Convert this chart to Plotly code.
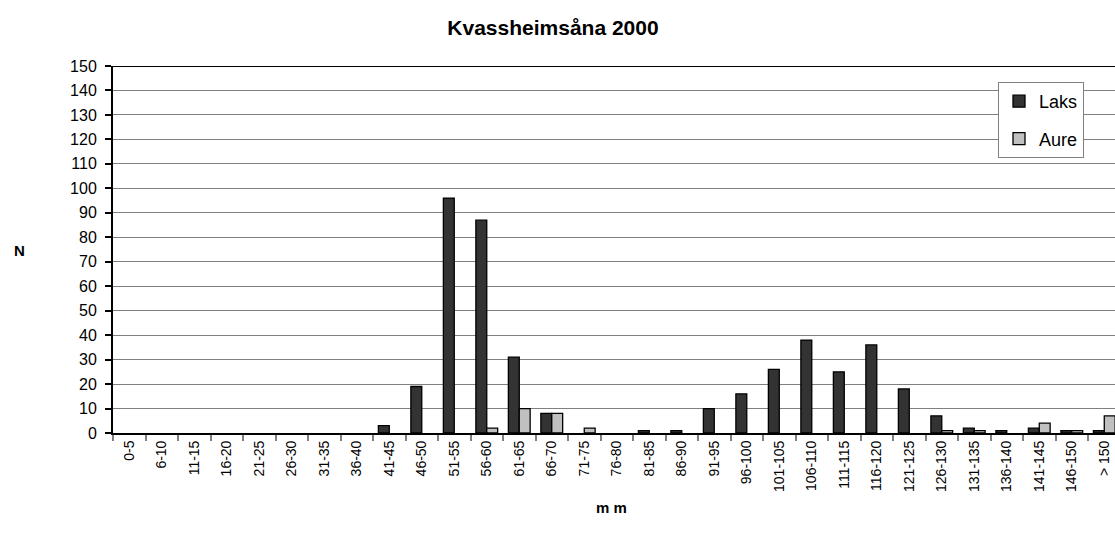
import plotly.graph_objects as go

categories = ["0-5", "6-10", "11-15", "16-20", "21-25", "26-30", "31-35", "36-40",
              "41-45", "46-50", "51-55", "56-60", "61-65", "66-70", "71-75", "76-80",
              "81-85", "86-90", "91-95", "96-100", "101-105", "106-110", "111-115",
              "116-120", "121-125", "126-130", "131-135", "136-140", "141-145",
              "146-150", "> 150"]
laks = [0, 0, 0, 0, 0, 0, 0, 0, 3, 19, 96, 87, 31, 8, 0, 0, 1, 1, 10, 16, 26, 38,
        25, 36, 18, 7, 2, 1, 2, 1, 1]
aure = [0, 0, 0, 0, 0, 0, 0, 0, 0, 0, 0, 2, 10, 8, 2, 0, 0, 0, 0, 0, 0, 0,
        0, 0, 0, 1, 1, 0, 4, 1, 7]
y_ticks = list(range(0, 151, 10))

FONT = "Liberation Sans, Arial, sans-serif"
W, H = 1115, 548
L, R, T, B = 113, 0, 66, 115
PW, PH = W - L - R, H - T - B


def nz(vals):
    # zero counts draw no bar (as in the reference)
    return [v if v else None for v in vals]


fig = go.Figure()
fig.add_trace(go.Bar(x=categories, y=nz(laks), name="Laks", legendgroup="a",
                     marker=dict(color="#333333", line=dict(color="black", width=1.3))))
fig.add_trace(go.Bar(x=categories, y=nz(aure), name="Aure", legendgroup="b",
                     marker=dict(color="#c0c0c0", line=dict(color="black", width=1.3))))

fig.add_shape(type="line", xref="paper", yref="y", x0=0, x1=1, y0=150, y1=150,
              line=dict(color="black", width=2))

fig.update_layout(
    width=W, height=H,
    margin=dict(l=L, r=R, t=T, b=B, autoexpand=False),
    paper_bgcolor="white", plot_bgcolor="white",
    barmode="group", bargap=0.33, bargroupgap=0,
    font=dict(family=FONT, size=15, color="black"),
    title=dict(text="<b>Kvassheimsåna 2000</b>", x=553 / W, xref="container",
               y=1 - 28 / H, yref="container", xanchor="center", yanchor="middle",
               font=dict(family=FONT, size=21, color="black")),
    xaxis=dict(type="category", range=[-0.5, 30.33], tickson="boundaries",
               ticks="outside", ticklen=6, tickcolor="#808080", tickwidth=1.5,
               showline=True, linecolor="black", linewidth=2,
               showgrid=False, tickangle=-90, automargin=False,
               tickfont=dict(family=FONT, size=14, color="black")),
    yaxis=dict(range=[0, 150], tickvals=y_ticks, ticks="outside", ticklen=6,
               tickcolor="black", tickwidth=1.5,
               showline=True, linecolor="black", linewidth=2,
               showgrid=True, gridcolor="#808080", gridwidth=1,
               zeroline=False, automargin=False, ticklabelstandoff=5,
               tickfont=dict(family=FONT, size=16, color="black")),
    legend=dict(x=(998 - L) / PW, y=(H - B - 82) / PH,
                xanchor="left", yanchor="top",
                bgcolor="white", bordercolor="#808080", borderwidth=1,
                font=dict(family=FONT, size=18, color="black"),
                itemwidth=30,
                tracegroupgap=11, traceorder="grouped"),
    showlegend=True,
)

fig.add_annotation(text="<b>N</b>", xref="paper", yref="paper",
                   x=(12 - L) / PW, y=(H - B - 250) / PH,
                   showarrow=False, font=dict(family=FONT, size=15, color="black"))
fig.add_annotation(text="<b>m m</b>", xref="paper", yref="paper",
                   x=(611 - L) / PW, y=(H - B - 518) / PH,
                   showarrow=False, font=dict(family=FONT, size=15, color="black"))

fig.write_html("out.html", config={"displayModeBar": False},
               post_script="document.body.style.margin='0';")
